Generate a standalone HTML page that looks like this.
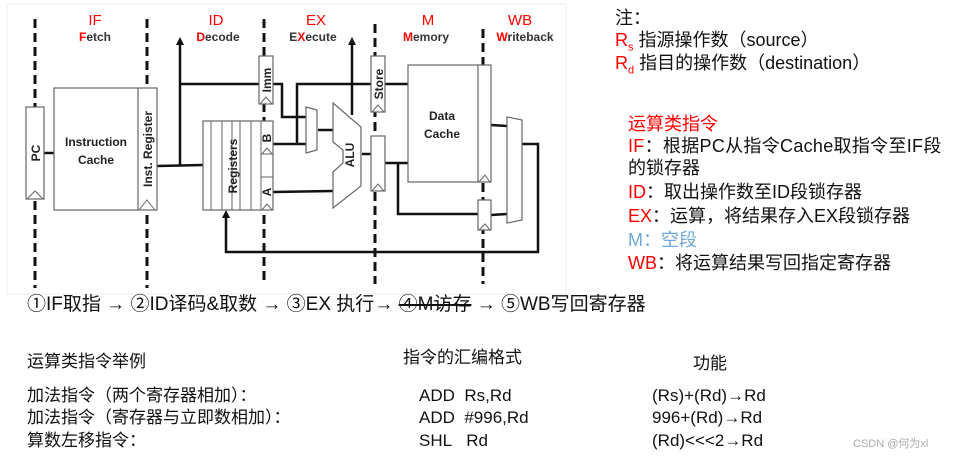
<!DOCTYPE html>
<html><head><meta charset="utf-8"><style>
body{margin:0;width:956px;height:461px;background:#fff;overflow:hidden;position:relative;font-family:"Liberation Sans","Noto Sans CJK SC",sans-serif;}
.t{position:absolute;font-size:18px;color:#111;white-space:nowrap;line-height:20px}
.r{color:#f00}
.a{font-weight:bold}
</style></head><body>
<svg width="956" height="461" style="position:absolute;left:0;top:0" font-family="Liberation Sans, sans-serif">
<rect x="7" y="4" width="559" height="290" fill="#fff" stroke="#eee"/>
<g font-size="15" fill="#f00" text-anchor="middle">
<text x="95" y="25">IF</text><text x="216" y="25">ID</text><text x="316" y="25">EX</text><text x="428" y="25">M</text><text x="520" y="25">WB</text>
</g>
<g font-size="12" font-weight="bold" fill="#333" text-anchor="middle">
<text x="95" y="41"><tspan fill="#f00">F</tspan>etch</text>
<text x="218" y="41"><tspan fill="#f00">D</tspan>ecode</text>
<text x="313" y="41">E<tspan fill="#f00">X</tspan>ecute</text>
<text x="426" y="41"><tspan fill="#f00">M</tspan>emory</text>
<text x="525" y="41"><tspan fill="#f00">W</tspan>riteback</text>
</g>
<g stroke="#111" stroke-width="3" stroke-dasharray="9,5">
<line x1="35" y1="19" x2="35" y2="288"/><line x1="147" y1="19" x2="147" y2="288"/>
<line x1="264" y1="19" x2="264" y2="282"/><line x1="375" y1="24" x2="375" y2="284"/>
<line x1="483" y1="29" x2="483" y2="284"/>
</g>
<g stroke="#111" stroke-width="2.5" fill="none">
<polyline points="157,166 203,165"/>
<polyline points="180,166 180,42"/>
<polyline points="180,84 259,84"/>
<polyline points="273,84 282,84 282,117 307,117"/>
<polyline points="297,144 297,84 408,84"/>
<polyline points="273,144 307,144"/>
<polyline points="318,130 333,130"/>
<polyline points="273,192 333,191"/>
<polyline points="352,115 352,42"/>
<polyline points="362,154 371,154"/>
<polyline points="385,163 408,163"/>
<polyline points="398,163 398,214 478,214"/>
<polyline points="491,215 507,214"/>
<polyline points="491,125 507,126"/>
<polyline points="522,144 538,144 538,252 226,252 226,214"/>
<polyline points="44,153 54,153"/>
</g>
<g fill="#111"><polygon points="180,37 176,45 184,45"/><polygon points="352,37 348,45 356,45"/><polygon points="226,210 222,218 230,218"/></g>
<g fill="#fff" stroke="#666" stroke-width="1.2">
<rect x="26" y="107" width="18" height="92"/>
<rect x="54" y="88" width="103" height="122"/><line x1="138" y1="88" x2="138" y2="210"/>
<rect x="203" y="121" width="70" height="89"/>
<rect x="259" y="56" width="14" height="48"/>
<rect x="371" y="56" width="14" height="56"/>
<rect x="371" y="136" width="14" height="55"/>
<rect x="408" y="65" width="83" height="117"/><line x1="478" y1="65" x2="478" y2="182"/>
<rect x="478" y="200" width="13" height="30"/>
<polygon points="306,107 317,110 317,150 306,153"/>
<polygon points="333,103 361,127 361,186 333,208 333,172 343,163 343,150 333,142"/>
<polygon points="507,117 522,120 522,220 507,223"/>
</g>
<g stroke="#666" stroke-width="1"><line x1="211" y1="121" x2="211" y2="210"/><line x1="222" y1="121" x2="222" y2="210"/><line x1="232" y1="121" x2="232" y2="210"/><line x1="240" y1="121" x2="240" y2="210"/><line x1="251" y1="121" x2="251" y2="210"/><line x1="261" y1="121" x2="261" y2="210"/><line x1="261" y1="154" x2="273" y2="154"/><line x1="261" y1="177" x2="273" y2="177"/></g>
<g fill="none" stroke="#666" stroke-width="1"><polyline points="27,199 35,191 43,199"/><polyline points="139,210 147,200 155,210"/><polyline points="260,104 266,97 272,104"/><polyline points="372,112 378,105 384,112"/><polyline points="372,191 378,184 384,191"/><polyline points="479,182 485,175 490,182"/><polyline points="479,230 485,224 490,230"/><polyline points="262,154 267,148 272,154"/><polyline points="262,210 267,204 272,210"/></g>
<g font-size="12" font-weight="bold" fill="#222" text-anchor="middle">
<text x="96" y="146">Instruction</text><text x="96" y="164">Cache</text>
<text x="442" y="120">Data</text><text x="442" y="138">Cache</text>
<text transform="translate(40,153) rotate(-90)">PC</text>
<text transform="translate(152,149) rotate(-90)">Inst. Register</text>
<text transform="translate(237,166) rotate(-90)">Registers</text>
<text transform="translate(271,80) rotate(-90)">Imm</text>
<text transform="translate(271,138) rotate(-90)">B</text>
<text transform="translate(271,192) rotate(-90)">A</text>
<text transform="translate(383,84) rotate(-90)">Store</text>
<text transform="translate(354,155) rotate(-90)">ALU</text>
</g>
</svg>
<div class="t" style="left:615px;top:8px">注：</div>
<div class="t" style="left:615px;top:30px"><span class="r">R<sub style="font-size:11px">s</sub></span> 指源操作数（source）</div>
<div class="t" style="left:615px;top:53px"><span class="r">R<sub style="font-size:11px">d</sub></span> 指目的操作数（destination）</div>
<div class="t r" style="left:628px;top:114px">运算类指令</div>
<div class="t" style="left:628px;top:136px;letter-spacing:0.3px"><span class="r">IF</span>：根据PC从指令Cache取指令至IF段</div>
<div class="t" style="left:628px;top:158px">的锁存器</div>
<div class="t" style="left:628px;top:182px"><span class="r">ID</span>：取出操作数至ID段锁存器</div>
<div class="t" style="left:628px;top:206px"><span class="r">EX</span>：运算，将结果存入EX段锁存器</div>
<div class="t" style="left:628px;top:230px;color:#6fa8dc">M：空段</div>
<div class="t" style="left:628px;top:253px"><span class="r">WB</span>：将运算结果写回指定寄存器</div>
<div class="t" style="left:27px;top:295px;font-size:19px">①IF取指 <span class="a">→</span> ②ID译码&amp;取数 <span class="a">→</span> ③EX 执行<span class="a">→</span> <span style="text-decoration:line-through;text-decoration-thickness:2px">④M访存</span> <span class="a">→</span> ⑤WB写回寄存器</div>
<div class="t" style="left:27px;top:352px;font-size:17px">运算类指令举例</div>
<div class="t" style="left:403px;top:348px;font-size:17px">指令的汇编格式</div>
<div class="t" style="left:693px;top:354px;font-size:17px">功能</div>
<div class="t" style="left:27px;top:386px;font-size:17px">加法指令（两个寄存器相加）：</div>
<div class="t" style="left:27px;top:408px;font-size:17px">加法指令（寄存器与立即数相加）：</div>
<div class="t" style="left:27px;top:431px;font-size:17px">算数左移指令：</div>
<div class="t" style="left:419px;top:386px;font-size:17px">ADD&nbsp; Rs,Rd</div>
<div class="t" style="left:419px;top:408px;font-size:17px">ADD&nbsp; #996,Rd</div>
<div class="t" style="left:419px;top:431px;font-size:17px">SHL&nbsp;&nbsp; Rd</div>
<div class="t" style="left:652px;top:386px;font-size:17px">(Rs)+(Rd)<span class="a">→</span>Rd</div>
<div class="t" style="left:652px;top:408px;font-size:17px">996+(Rd)<span class="a">→</span>Rd</div>
<div class="t" style="left:652px;top:431px;font-size:17px">(Rd)&lt;&lt;&lt;2<span class="a">→</span>Rd</div>
<div class="t" style="left:853px;top:434px;font-size:11px;color:#aaa">CSDN @何为xl</div>
</body></html>
